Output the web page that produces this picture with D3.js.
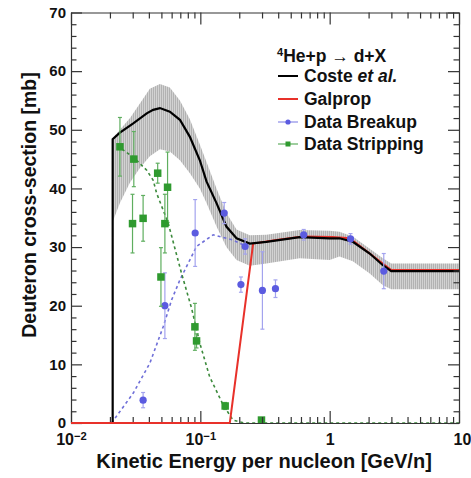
<!DOCTYPE html>
<html>
<head>
<meta charset="utf-8">
<script src="https://cdn.jsdelivr.net/npm/d3@7"></script>
<style>
  body { margin: 0; background: #fff; }
  svg text { font-family: "Liberation Sans", Arial, Helvetica, sans-serif; font-weight: bold; fill: #111; }
</style>
</head>
<body>
<svg id="chart" width="471" height="478"></svg>
<script>
// ---- data ----
// Coste et al. parametrisation (black)
var costeE  = [0.021, 0.021, 0.0239, 0.0303, 0.0385, 0.0432, 0.0487, 0.0581, 0.0695, 0.083, 0.0991, 0.1116, 0.1334, 0.159, 0.1905, 0.241, 0.324, 0.586, 1.0, 1.19, 1.51, 2.04, 2.58, 2.99, 10];
var costeXS = [0, 48.4, 49.5, 51.1, 52.8, 53.4, 53.7, 53.1, 51.7, 48.8, 44.8, 41.2, 37.5, 33.5, 31.5, 30.6, 30.9, 31.7, 31.5, 31.5, 30.9, 28.9, 26.9, 25.9, 25.9];

// uncertainty band around Coste
var bandE  = [0.021, 0.0239, 0.0286, 0.0341, 0.0407, 0.0487, 0.0581, 0.0695, 0.083, 0.0991, 0.1116, 0.1334, 0.159, 0.1905, 0.241, 0.324, 0.586, 1.0, 1.19, 1.51, 2.04, 2.58, 2.99, 10];
var bandLo = [34.3, 37.5, 41.0, 43.5, 45.5, 46.7, 46.3, 44.8, 42.6, 40.0, 37.5, 33.5, 30.0, 27.8, 26.8, 27.2, 28.1, 27.8, 28.4, 27.6, 25.5, 23.5, 22.8, 22.8];
var bandHi = [48.6, 50.0, 52.0, 54.5, 57.0, 57.8, 57.2, 55.0, 51.8, 47.5, 44.5, 40.0, 35.8, 33.0, 32.0, 32.1, 32.9, 32.8, 32.6, 31.8, 29.7, 28.1, 27.2, 27.2];

// Galprop (red)
var galpropE  = [0.01, 0.169, 0.256, 0.387, 0.619, 1.05, 1.43, 2.99, 10];
var galpropXS = [0, 0, 30.6, 31.2, 31.8, 31.7, 31.5, 26.1, 26.1];

// fits to the data (dashed)
var breakupFitE  = [0.0206, 0.0303, 0.0407, 0.0516, 0.060, 0.0695, 0.0935, 0.1257, 0.179, 0.2275];
var breakupFitXS = [0, 5.1, 10.2, 16.4, 21.0, 24.4, 30.1, 32.1, 31.2, 30.1];
var strippingFitE  = [0.0248, 0.0312, 0.0385, 0.0432, 0.0459, 0.0564, 0.0716, 0.0855, 0.0991, 0.118, 0.150, 0.179, 0.22, 10];
var strippingFitXS = [46.7, 45.1, 43.1, 41.4, 39.2, 34.1, 25.5, 19.6, 13.6, 7.9, 3.1, 0.5, 0, 0];

// measurements
var breakupE   = [0.0361, 0.0532, 0.0912, 0.153, 0.222, 0.206, 0.302, 0.381, 0.630, 1.45, 2.62];
var breakupXS  = [3.9, 20.0, 32.4, 35.8, 30.1, 23.6, 22.6, 22.9, 32.1, 31.4, 25.9];
var breakupErr = [1.3, 5.6, 5.7, 1.8, 1.3, 1.3, 6.6, 1.5, 0.9, 0.9, 3.0];

var strippingE   = [0.0239, 0.0306, 0.0299, 0.0361, 0.0468, 0.0558, 0.0532, 0.0496, 0.0908, 0.0935, 0.1556, 0.297];
var strippingXS  = [47.1, 45.0, 34.0, 34.9, 42.6, 40.2, 34.0, 24.9, 16.4, 14.0, 2.9, 0.5];
var strippingErr = [5.0, 4.7, 5.0, 3.9, 1.7, 6.0, 5.0, 5.0, 4.0, 1.2, 0.6, 0.4];

// axes
var xMajor = [0.01, 0.1, 1, 10];
var xTickBase = ["10", "10", "1", "10"];
var xTickExp  = ["\u22122", "\u22121", "", ""];
var yMajor = [0, 10, 20, 30, 40, 50, 60, 70];

var legendLabels = ["Coste", "Galprop", "Data Breakup", "Data Stripping"];

// ---- chart ----
var svg = d3.select('#chart');
var x = d3.scaleLog().domain([0.01, 10]).range([71, 459]);
var y = d3.scaleLinear().domain([0, 70]).range([423, 12.5]);

var xMinor = [];
[0.01, 0.1, 1].forEach(function(dec) {
  for (var k = 2; k <= 9; k++) xMinor.push(+(dec * k).toPrecision(3));
});
var yMinor = d3.range(0, 71, 2).filter((v) => v % 10 !== 0);

// hatched fill for the band (fine vertical lines)
var defs = svg.append('defs');
var pat = defs.append('pattern')
  .attr('id', 'hatch')
  .attr('patternUnits', 'userSpaceOnUse')
  .attr('width', 2).attr('height', 6);
pat.append('rect').attr('width', 2).attr('height', 6).attr('fill', '#d2d2d2');
pat.append('rect').attr('x', 1).attr('width', 1).attr('height', 6).attr('fill', '#b2b2b2');

var zip = (a, b) => a.map((v, i) => [v, b[i]]);

var band = bandE.map((e, i) => ({e: e, lo: bandLo[i], hi: bandHi[i]}));
svg.append('path')
  .datum(band)
  .attr('fill', 'url(#hatch)')
  .attr('d', d3.area().x((d) => x(d.e)).y0((d) => y(d.lo)).y1((d) => y(d.hi)));

var line = d3.line().x((d) => x(d[0])).y((d) => y(d[1]));

// fits
svg.append('path').datum(zip(breakupFitE, breakupFitXS))
  .attr('fill', 'none').attr('stroke', '#6f6fd8').attr('stroke-width', 1.6)
  .attr('stroke-dasharray', '3,3').attr('d', line);
svg.append('path').datum(zip(strippingFitE, strippingFitXS))
  .attr('fill', 'none').attr('stroke', '#3c8a3c').attr('stroke-width', 1.6)
  .attr('stroke-dasharray', '3,3').attr('d', line);

// models
svg.append('path').datum(zip(galpropE, galpropXS))
  .attr('fill', 'none').attr('stroke', '#e8312a').attr('stroke-width', 2).attr('d', line);
svg.append('path').datum(zip(costeE, costeXS))
  .attr('fill', 'none').attr('stroke', '#000').attr('stroke-width', 2.2).attr('d', line);

// error bars + markers
function drawPoints(E, V, Err, barColor, drawMarker) {
  var pts = E.map((e, i) => ({e: e, v: V[i], err: Err[i]}));
  var g = svg.append('g');
  var bars = g.selectAll('g.bar').data(pts).enter().append('g').attr('class', 'bar')
    .attr('stroke', barColor).attr('stroke-width', 1.2);
  bars.append('line')
    .attr('x1', (d) => x(d.e)).attr('x2', (d) => x(d.e))
    .attr('y1', (d) => y(d.v - d.err)).attr('y2', (d) => y(d.v + d.err));
  bars.append('line')
    .attr('x1', (d) => x(d.e) - 2).attr('x2', (d) => x(d.e) + 2)
    .attr('y1', (d) => y(d.v + d.err)).attr('y2', (d) => y(d.v + d.err));
  bars.append('line')
    .attr('x1', (d) => x(d.e) - 2).attr('x2', (d) => x(d.e) + 2)
    .attr('y1', (d) => y(d.v - d.err)).attr('y2', (d) => y(d.v - d.err));
  g.selectAll('.mk').data(pts).enter().each(function(d) {
    drawMarker(d3.select(this), x(d.e), y(d.v));
  });
}

function circleMarker(sel, cx, cy, r) {
  sel.append('circle').attr('class', 'mk').attr('cx', cx).attr('cy', cy).attr('r', r || 3.6)
    .attr('fill', '#5b5be0');
}
function squareMarker(sel, cx, cy, s) {
  s = s || 7.5;
  sel.append('rect').attr('class', 'mk').attr('x', cx - s / 2).attr('y', cy - s / 2)
    .attr('width', s).attr('height', s).attr('fill', '#2f9a2f');
}

drawPoints(breakupE, breakupXS, breakupErr, '#a3a3ee', circleMarker);
drawPoints(strippingE, strippingXS, strippingErr, '#5fae5f', squareMarker);

// ---- axes (ROOT style, ticks inward on all four sides) ----
function styleAxis(g, fs) {
  g.attr('font-size', fs || 15).attr('font-family', null).attr('color', '#333');
  g.selectAll('.tick line').attr('stroke-width', 1.2);
  g.select('.domain').attr('stroke-width', 1.2);
}

var gxb = svg.append('g').attr('transform', 'translate(0,' + y(0) + ')')
  .call(d3.axisBottom(x).tickValues(xMajor).tickSizeInner(-12).tickSizeOuter(0).tickPadding(11).tickFormat(''));
styleAxis(gxb, 16);
gxb.selectAll('.tick text').each(function(d, i) {
  var t = d3.select(this);
  t.append('tspan').text(xTickBase[i]);
  if (xTickExp[i]) t.append('tspan').attr('dy', '-0.45em').attr('font-size', '0.7em').text(xTickExp[i]);
  if (i === xMajor.length - 1) t.attr('dx', 3);
});
svg.append('g').attr('transform', 'translate(0,' + y(0) + ')')
  .call(d3.axisBottom(x).tickValues(xMinor).tickSizeInner(-6).tickSizeOuter(0).tickFormat(''))
  .call((g) => { g.select('.domain').remove(); styleAxis(g); });

svg.append('g').attr('transform', 'translate(0,' + y(70) + ')')
  .call(d3.axisTop(x).tickValues(xMajor).tickSizeInner(-12).tickSizeOuter(0).tickFormat(''))
  .call((g) => styleAxis(g));
svg.append('g').attr('transform', 'translate(0,' + y(70) + ')')
  .call(d3.axisTop(x).tickValues(xMinor).tickSizeInner(-6).tickSizeOuter(0).tickFormat(''))
  .call((g) => { g.select('.domain').remove(); styleAxis(g); });

var gyl = svg.append('g').attr('transform', 'translate(' + x(0.01) + ',0)')
  .call(d3.axisLeft(y).tickValues(yMajor).tickSizeInner(-11).tickSizeOuter(0).tickPadding(5));
styleAxis(gyl, 15);
svg.append('g').attr('transform', 'translate(' + x(0.01) + ',0)')
  .call(d3.axisLeft(y).tickValues(yMinor).tickSizeInner(-5.5).tickSizeOuter(0).tickFormat(''))
  .call((g) => { g.select('.domain').remove(); styleAxis(g); });

svg.append('g').attr('transform', 'translate(' + x(10) + ',0)')
  .call(d3.axisRight(y).tickValues(yMajor).tickSizeInner(-11).tickSizeOuter(0).tickFormat(''))
  .call((g) => styleAxis(g));
svg.append('g').attr('transform', 'translate(' + x(10) + ',0)')
  .call(d3.axisRight(y).tickValues(yMinor).tickSizeInner(-5.5).tickSizeOuter(0).tickFormat(''))
  .call((g) => { g.select('.domain').remove(); styleAxis(g); });

// the red Galprop line sits on top of the x axis near zero
svg.append('path').datum(zip(galpropE.slice(0, 2), galpropXS.slice(0, 2)))
  .attr('fill', 'none').attr('stroke', '#e8312a').attr('stroke-width', 2).attr('d', line);

// axis titles
svg.append('text')
  .attr('x', 264).attr('y', 468)
  .attr('text-anchor', 'middle').attr('font-size', 20)
  .text('Kinetic Energy per nucleon [GeV/n]');
svg.append('text')
  .attr('transform', 'translate(36,205) rotate(-90)')
  .attr('text-anchor', 'middle').attr('font-size', 19.5)
  .text('Deuteron cross-section [mb]');

// ---- legend ----
var lg = svg.append('g').attr('font-size', 17.5);
var head = lg.append('text').attr('x', 277).attr('y', 62);
head.append('tspan').attr('font-size', 11).attr('dy', -6).text('4');
head.append('tspan').attr('dy', 6).text('He+p ');
head.append('tspan').attr('font-weight', 'normal').text('\u2192');
head.append('tspan').text(' d+X');

var rowsY = [76, 99, 122, 144];
var rowColor = ['#000', '#e8312a', '#8c8ce8', '#5fae5f'];
legendLabels.forEach(function(lab, i) {
  var cy = rowsY[i];
  lg.append('line').attr('x1', 278).attr('x2', 298).attr('y1', cy).attr('y2', cy)
    .attr('stroke', rowColor[i]).attr('stroke-width', i < 2 ? 2 : 1.2);
  if (i === 2) circleMarker(lg, 288, cy, 2.6);
  if (i === 3) squareMarker(lg, 288, cy, 5);
  var t = lg.append('text').attr('x', 304).attr('y', cy + 6).text(lab);
  if (i === 0) t.append('tspan').attr('font-style', 'italic').text(' et al.');
});
</script>
</body>
</html>
